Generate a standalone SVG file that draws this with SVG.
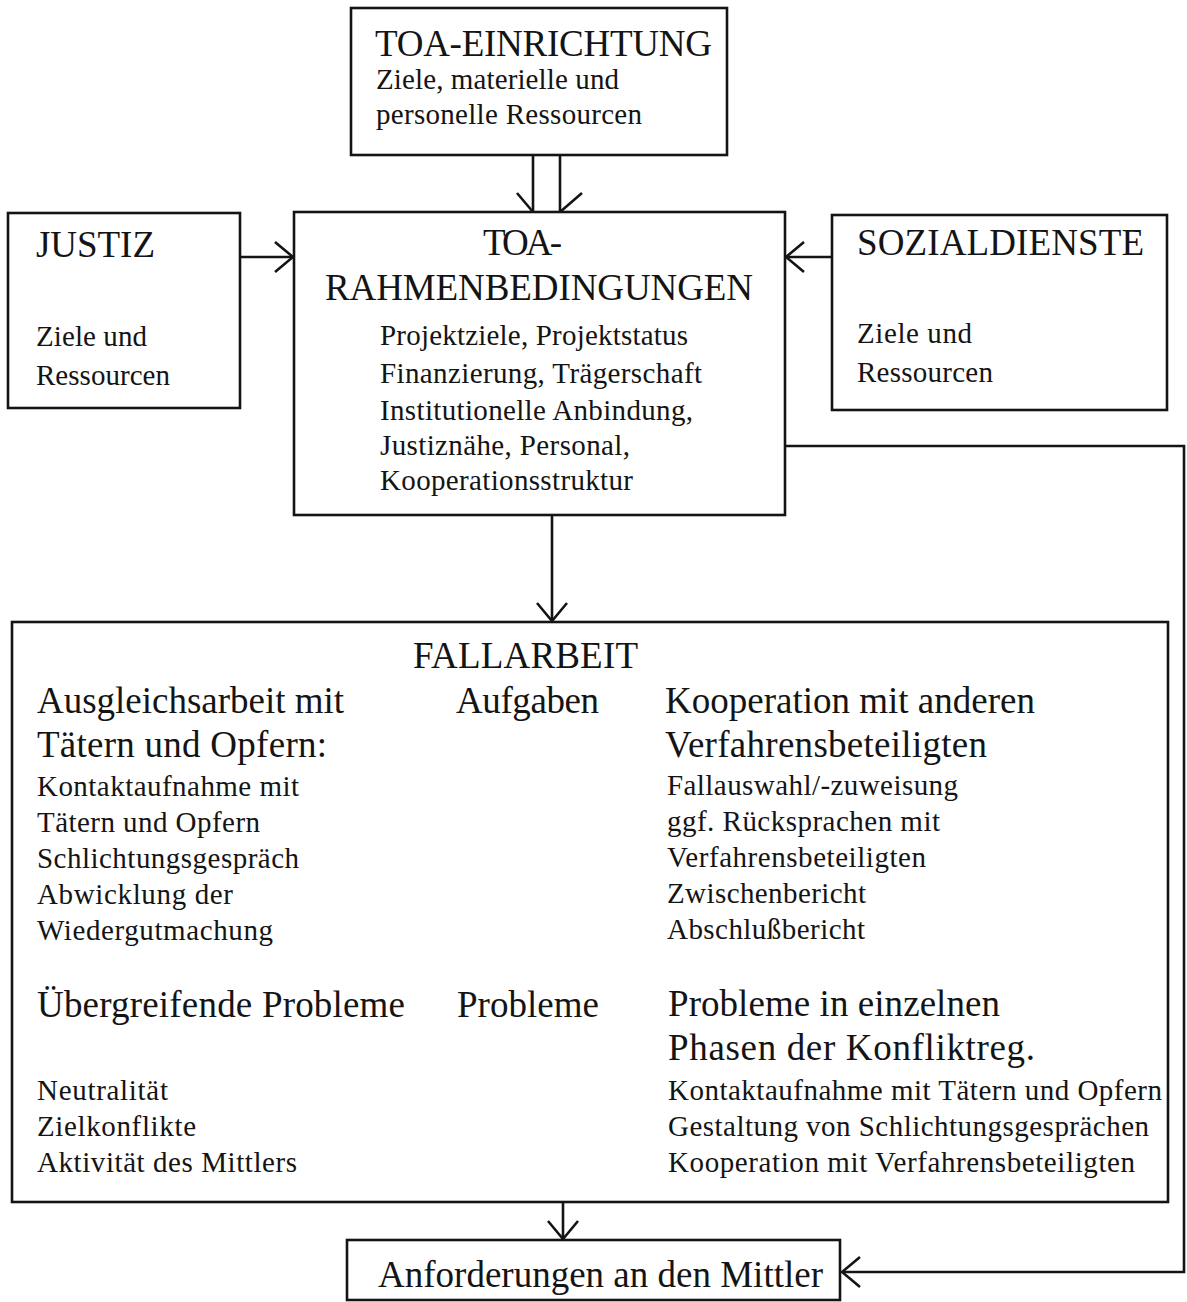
<svg xmlns="http://www.w3.org/2000/svg" width="1187" height="1302" viewBox="0 0 1187 1302">
<defs>
<style>
.box{fill:#fff;stroke:#141414;stroke-width:2.6}
.ln{fill:none;stroke:#141414;stroke-width:2.6}
text{font-family:"Liberation Serif","Times New Roman",serif;fill:#141414}
.big{font-size:37px}
.sm{font-size:29px}
</style>
<marker id="ah" markerUnits="userSpaceOnUse" viewBox="0 0 20 32" markerWidth="20" markerHeight="32" refX="19" refY="16" orient="auto">
<path d="M1,1 L19,16 L1,31" fill="none" stroke="#141414" stroke-width="2.6"/>
</marker>
</defs>
<rect width="1187" height="1302" fill="#fff"/>
<g id="connectors">
<line class="ln" x1="533" y1="155" x2="533" y2="212"/>
<line class="ln" x1="560" y1="155" x2="560" y2="212"/>
<polyline class="ln" points="517,193 533,212"/>
<polyline class="ln" points="582,193 560,212"/>
<line class="ln" x1="240" y1="257" x2="293" y2="257" marker-end="url(#ah)"/>
<line class="ln" x1="832" y1="257" x2="786" y2="257" marker-end="url(#ah)"/>
<line class="ln" x1="552" y1="515" x2="552" y2="621" marker-end="url(#ah)"/>
<polyline class="ln" points="785,446 1184,446 1184,1272 842,1272" marker-end="url(#ah)"/>
<line class="ln" x1="563" y1="1202" x2="563" y2="1239" marker-end="url(#ah)"/>
<line class="ln" x1="522" y1="735" x2="522" y2="971" marker-end="url(#ah)"/>
</g>
<g id="toa-einrichtung">
<rect class="box" x="351" y="8" width="376" height="147"/>
<text class="big" x="375" y="56" textLength="337" lengthAdjust="spacing">TOA-EINRICHTUNG</text>
<text class="sm" x="376" y="89" textLength="243" lengthAdjust="spacing">Ziele, materielle und</text>
<text class="sm" x="376" y="124" textLength="266" lengthAdjust="spacing">personelle Ressourcen</text>
</g>
<g id="justiz">
<rect class="box" x="8" y="213" width="232" height="195"/>
<text class="big" x="36" y="257" textLength="119" lengthAdjust="spacing">JUSTIZ</text>
<text class="sm" x="36" y="346" textLength="111" lengthAdjust="spacing">Ziele und</text>
<text class="sm" x="36" y="385" textLength="134" lengthAdjust="spacing">Ressourcen</text>
</g>
<g id="sozialdienste">
<rect class="box" x="832" y="215" width="335" height="195"/>
<text class="big" x="857" y="255" textLength="287" lengthAdjust="spacing">SOZIALDIENSTE</text>
<text class="sm" x="857" y="343" textLength="115" lengthAdjust="spacing">Ziele und</text>
<text class="sm" x="857" y="382" textLength="136" lengthAdjust="spacing">Ressourcen</text>
</g>
<g id="toa-rahmenbedingungen">
<rect class="box" x="294" y="212" width="491" height="303"/>
<text class="big" x="483" y="255" textLength="79" lengthAdjust="spacing">TOA-</text>
<text class="big" x="325" y="300" textLength="428" lengthAdjust="spacing">RAHMENBEDINGUNGEN</text>
<text class="sm" x="380" y="345" textLength="308" lengthAdjust="spacing">Projektziele, Projektstatus</text>
<text class="sm" x="380" y="383" textLength="322" lengthAdjust="spacing">Finanzierung, Trägerschaft</text>
<text class="sm" x="380" y="420" textLength="313" lengthAdjust="spacing">Institutionelle Anbindung,</text>
<text class="sm" x="380" y="455" textLength="250" lengthAdjust="spacing">Justiznähe, Personal,</text>
<text class="sm" x="380" y="490" textLength="253" lengthAdjust="spacing">Kooperationsstruktur</text>
</g>
<g id="fallarbeit">
<rect class="box" x="12" y="622" width="1156" height="580"/>
<text class="big" x="413" y="668" textLength="225" lengthAdjust="spacing">FALLARBEIT</text>
<text class="big" x="37" y="713" textLength="307" lengthAdjust="spacing">Ausgleichsarbeit mit</text>
<text class="big" x="456" y="713" textLength="143" lengthAdjust="spacing">Aufgaben</text>
<text class="big" x="665" y="713" textLength="370" lengthAdjust="spacing">Kooperation mit anderen</text>
<text class="big" x="37" y="757" textLength="290" lengthAdjust="spacing">Tätern und Opfern:</text>
<text class="big" x="665" y="757" textLength="322" lengthAdjust="spacing">Verfahrensbeteiligten</text>
<text class="sm" x="37" y="796" textLength="262" lengthAdjust="spacing">Kontaktaufnahme mit</text>
<text class="sm" x="37" y="832" textLength="223" lengthAdjust="spacing">Tätern und Opfern</text>
<text class="sm" x="37" y="868" textLength="262" lengthAdjust="spacing">Schlichtungsgespräch</text>
<text class="sm" x="37" y="904" textLength="196" lengthAdjust="spacing">Abwicklung der</text>
<text class="sm" x="37" y="940" textLength="236" lengthAdjust="spacing">Wiedergutmachung</text>
<text class="sm" x="667" y="795" textLength="291" lengthAdjust="spacing">Fallauswahl/-zuweisung</text>
<text class="sm" x="667" y="831" textLength="273" lengthAdjust="spacing">ggf. Rücksprachen mit</text>
<text class="sm" x="667" y="867" textLength="259" lengthAdjust="spacing">Verfahrensbeteiligten</text>
<text class="sm" x="667" y="903" textLength="199" lengthAdjust="spacing">Zwischenbericht</text>
<text class="sm" x="667" y="939" textLength="198" lengthAdjust="spacing">Abschlußbericht</text>
<text class="big" x="37" y="1017" textLength="368" lengthAdjust="spacing">Übergreifende Probleme</text>
<text class="big" x="457" y="1017" textLength="142" lengthAdjust="spacing">Probleme</text>
<text class="big" x="668" y="1016" textLength="332" lengthAdjust="spacing">Probleme in einzelnen</text>
<text class="big" x="668" y="1060" textLength="367" lengthAdjust="spacing">Phasen der Konfliktreg.</text>
<text class="sm" x="37" y="1100" textLength="131" lengthAdjust="spacing">Neutralität</text>
<text class="sm" x="37" y="1136" textLength="159" lengthAdjust="spacing">Zielkonflikte</text>
<text class="sm" x="37" y="1172" textLength="260" lengthAdjust="spacing">Aktivität des Mittlers</text>
<text class="sm" x="668" y="1100" textLength="494" lengthAdjust="spacing">Kontaktaufnahme mit Tätern und Opfern</text>
<text class="sm" x="668" y="1136" textLength="481" lengthAdjust="spacing">Gestaltung von Schlichtungsgesprächen</text>
<text class="sm" x="668" y="1172" textLength="467" lengthAdjust="spacing">Kooperation mit Verfahrensbeteiligten</text>
</g>
<g id="anforderungen">
<rect class="box" x="347" y="1240" width="493" height="60"/>
<text class="big" x="378" y="1287" textLength="445" lengthAdjust="spacing">Anforderungen an den Mittler</text>
</g>
</svg>
